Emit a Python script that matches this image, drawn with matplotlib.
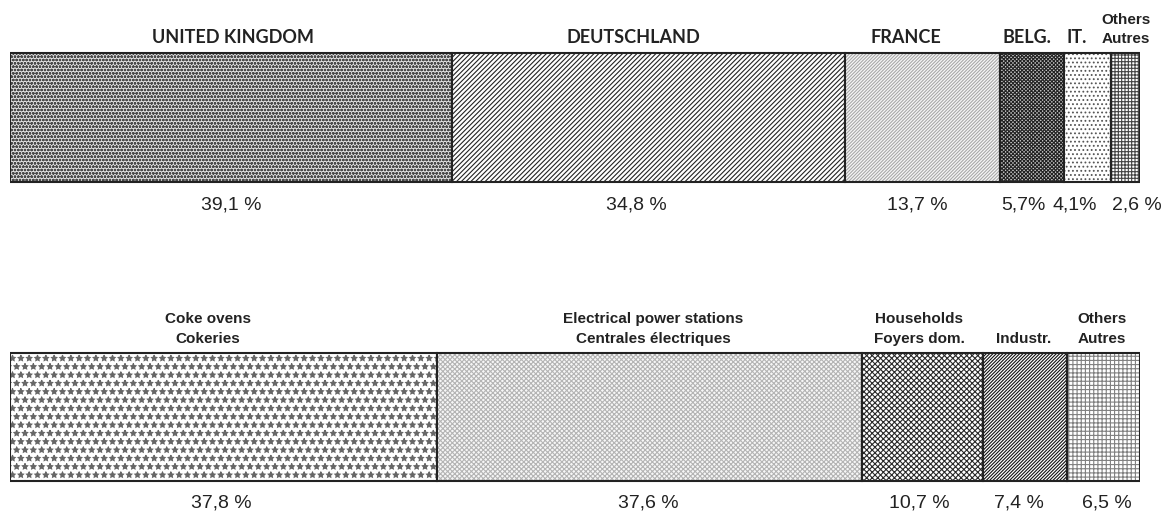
import numpy as np
import matplotlib.pyplot as plt
from matplotlib.transforms import offset_copy

# top bar: share by country
countries = ['UNITED KINGDOM', 'DEUTSCHLAND', 'FRANCE', 'BELG.', 'IT.', 'Others\nAutres']
country_pct = [39.1, 34.8, 13.7, 5.7, 4.1, 2.6]
country_txt = ['39,1 %', '34,8 %', '13,7 %', '5,7%', '4,1%', '2,6 %']

# bottom bar: share by use
uses = ['Coke ovens\nCokeries', 'Electrical power stations\nCentrales électriques',
        'Households\nFoyers dom.', 'Industr.', 'Others\nAutres']
use_pct = [37.8, 37.6, 10.7, 7.4, 6.5]
use_txt = ['37,8 %', '37,6 %', '10,7 %', '7,4 %', '6,5 %']

# hatch styles (hatch, hatch colour, face colour)
top_styles = [('ooooo', '#4a4a4a', '#e0e0e0'),
              ('/' * 7, '#222222', 'white'),
              ('/' * 10, '#a8a8a8', '#f7f7f7'),
              ('x' * 9, '#222222', '#c8c8c8'),
              ('.' * 4, '#555555', 'white'),
              ('+' * 5, '#444444', 'white')]
bot_styles = [('**', '#666666', 'white'),
              ('x' * 7, '#b4b4b4', '#f7f7f7'),
              ('x' * 6, '#2a2a2a', 'white'),
              ('/' * 10, '#111111', 'white'),
              ('+' * 4, '#808080', 'white')]

# small horizontal nudges (pixels) for labels that sit off-centre
top_name_dx = [2, -15, -17, -5, -11, 1]
top_pct_dx = [0, -12, -5, -9, -13, 0]
bot_name_dx = [-16, 4, -3, -1, -1]
bot_pct_dx = [-2, -1, -3, -6, 4]

ink = '#222222'
plt.rcParams['hatch.linewidth'] = 0.8

fig = plt.figure(figsize=(11.68, 5.13), dpi=100)
ax = fig.add_axes([10 / 1168, 0, 1130 / 1168, 1])
ax.set_xlim(0, 100)
ax.set_ylim(513, 0)
ax.axis('off')


def shifted(dx):
    return offset_copy(ax.transData, fig=fig, x=dx, y=0, units='dots')


def draw_bar(values, styles, yc, h):
    left = np.concatenate([[0], np.cumsum(values)[:-1]])
    for l, v, (hatch, hc, fc) in zip(left, values, styles):
        ax.barh(yc, v, left=l, height=h, color=fc, hatch=hatch,
                edgecolor=hc, linewidth=0)
        ax.barh(yc, v, left=l, height=h, fill=False, edgecolor=ink,
                linewidth=1.5)
    return left + np.array(values) / 2


# top bar
mids = draw_bar(country_pct, top_styles, 117.5, 129)
for name, m, dx in zip(countries, mids, top_name_dx):
    if '\n' in name:
        ax.text(m, 46, name, ha='center', va='bottom', fontsize=11,
                fontweight='bold', family='Liberation Sans', color=ink,
                linespacing=1.5, transform=shifted(dx))
    else:
        ax.text(m, 46, name, ha='center', va='bottom', fontsize=13,
                fontweight='bold', family='Lato', color=ink,
                transform=shifted(dx))
for i, (t, m, dx) in enumerate(zip(country_txt, mids, top_pct_dx)):
    if i == len(mids) - 1:
        x = m - country_pct[i] / 2
        ax.text(x, 205, t, ha='left', va='center', fontsize=14,
                family='Liberation Sans', color=ink, transform=shifted(1))
    else:
        ax.text(m, 205, t, ha='center', va='center', fontsize=14,
                family='Liberation Sans', color=ink, transform=shifted(dx))

# bottom bar
mids = draw_bar(use_pct, bot_styles, 417, 128)
for name, m, dx in zip(uses, mids, bot_name_dx):
    ax.text(m, 346, name, ha='center', va='bottom', fontsize=11,
            fontweight='bold', family='Liberation Sans', color=ink,
            linespacing=1.55, transform=shifted(dx))
for t, m, dx in zip(use_txt, mids, bot_pct_dx):
    ax.text(m, 503, t, ha='center', va='center', fontsize=14,
            family='Liberation Sans', color=ink, transform=shifted(dx))

fig.savefig('out.png', dpi=100, facecolor='white')
